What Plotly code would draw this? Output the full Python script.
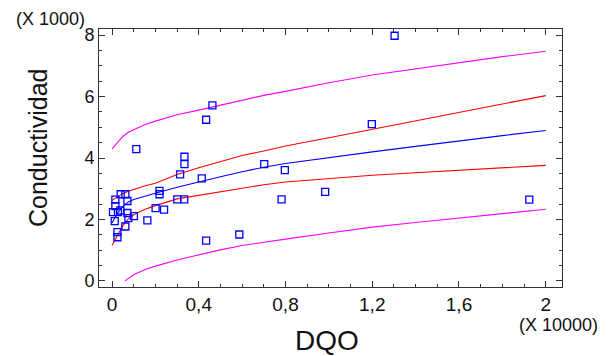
import plotly.graph_objects as go

# Observed data (DQO, Conductividad)
DQO = [45, 125, 155, 155, 250, 250, 275, 385, 400, 615, 710, 710, 755, 1010, 615,
       1630, 2010, 2400, 2190, 2190, 3010, 3330, 1120,
       4630, 4340, 3340, 3340, 3140, 4140, 7020, 4340, 5870,
       13030, 11980, 7970, 7820, 9830, 19240]
COND = [2240, 1945, 2645, 2430, 1585, 1420, 2240, 2290, 2820, 2820, 2600, 2210, 2040, 2110, 1770,
        1970, 2370, 2320, 2930, 2820, 2650, 2650, 4290,
        5715, 5245, 4040, 3800, 3465, 3335, 3800, 1310, 1510,
        7980, 5105, 3605, 2655, 2895, 2645]

# Fitted model and limits
X_FIT = [0, 250, 500, 750, 1000, 1500, 2000, 3000, 4000, 5000, 6000, 7000, 8000,
         10000, 12000, 14000, 16000, 18000, 20000]
FIT = [1885, 2200, 2420, 2570, 2650, 2760, 2850, 3050, 3230, 3390, 3550, 3700, 3820,
       4020, 4200, 4380, 4560, 4730, 4895]
CONF_UP = [2620, 2730, 2840, 2920, 2980, 3090, 3180, 3460, 3680, 3890, 4080, 4230, 4390,
           4660, 4940, 5220, 5490, 5760, 6030]
CONF_LO = [1150, 1500, 1800, 2020, 2150, 2320, 2450, 2670, 2790, 2900, 3020, 3130, 3220,
           3340, 3440, 3520, 3600, 3680, 3760]
PRED_UP = [4295, 4500, 4700, 4840, 4920, 5080, 5200, 5410, 5560, 5720, 5870, 6040, 6170,
           6450, 6700, 6900, 7110, 7300, 7475]
X_PRED_LO = [600, 1000, 1500, 2000, 3000, 4000, 5000, 6000, 7000, 8000, 10000, 12000,
             14000, 16000, 18000, 20000]
PRED_LO = [0, 200, 360, 480, 680, 850, 1010, 1150, 1260, 1360, 1560, 1750, 1900, 2040,
           2190, 2330]

X_TICKS = [0, 4000, 8000, 12000, 16000, 20000]
X_TICK_LABELS = ["0", "0,4", "0,8", "1,2", "1,6", "2"]
Y_TICKS = [0, 2000, 4000, 6000, 8000]
Y_TICK_LABELS = ["0", "2", "4", "6", "8"]

FONT = "Liberation Sans, Arial, sans-serif"
L, R, T, B = 99, 562, 29, 287
W, H = 616, 356
pw, ph = R - L, B - T

def px(x):
    return (x - L) / pw

def py(y):
    return (B - y) / ph

fig = go.Figure()
line_w = 1.1
fig.add_trace(go.Scatter(x=X_FIT, y=PRED_UP, mode="lines", line=dict(color="#FF00FF", width=line_w)))
fig.add_trace(go.Scatter(x=X_PRED_LO, y=PRED_LO, mode="lines", line=dict(color="#FF00FF", width=line_w)))
fig.add_trace(go.Scatter(x=X_FIT, y=CONF_UP, mode="lines", line=dict(color="#FF0000", width=line_w)))
fig.add_trace(go.Scatter(x=X_FIT, y=CONF_LO, mode="lines", line=dict(color="#FF0000", width=line_w)))
fig.add_trace(go.Scatter(x=X_FIT, y=FIT, mode="lines", line=dict(color="#0000FF", width=line_w)))
fig.add_trace(go.Scatter(x=DQO, y=COND, mode="markers",
                         marker=dict(symbol="square-open", size=7, color="#0000FF",
                                     line=dict(width=1.3, color="#0000FF"))))

axis_common = dict(showgrid=False, zeroline=False, showline=True, linecolor="#333333",
                   linewidth=1, mirror="allticks", ticks="inside", ticklen=6,
                   tickcolor="#333333", tickwidth=1)

fig.update_xaxes(range=[-600, 20750], tickvals=X_TICKS, ticktext=X_TICK_LABELS,
                 tickfont=dict(family=FONT, size=19, color="#111111"),
                 minor=dict(dtick=1000, tick0=0, ticks="inside", ticklen=3,
                            tickcolor="#333333", tickwidth=1),
                 **axis_common)
fig.update_yaxes(range=[-200, 8200], tickvals=Y_TICKS, ticktext=Y_TICK_LABELS,
                 tickfont=dict(family=FONT, size=18, color="#111111"),
                 minor=dict(dtick=500, tick0=0, ticks="inside", ticklen=3,
                            tickcolor="#333333", tickwidth=1),
                 **axis_common)

annotations = [
    dict(text="(X 1000)", x=px(50), y=py(19), font=dict(size=18)),
    dict(text="(X 10000)", x=px(558), y=py(325), font=dict(size=18)),
    dict(text="DQO", x=px(327), y=py(340), font=dict(size=28)),
    dict(text="Conductividad", x=px(38), y=py(148), textangle=-90, font=dict(size=25)),
]
for a in annotations:
    a.update(xref="paper", yref="paper", showarrow=False, xanchor="center", yanchor="middle")
    a["font"].update(family=FONT, color="#111111")

fig.update_layout(width=W, height=H, margin=dict(l=L, r=W - R, t=T, b=H - B),
                  plot_bgcolor="white", paper_bgcolor="white", showlegend=False,
                  annotations=annotations)

fig.write_html("out.html")
